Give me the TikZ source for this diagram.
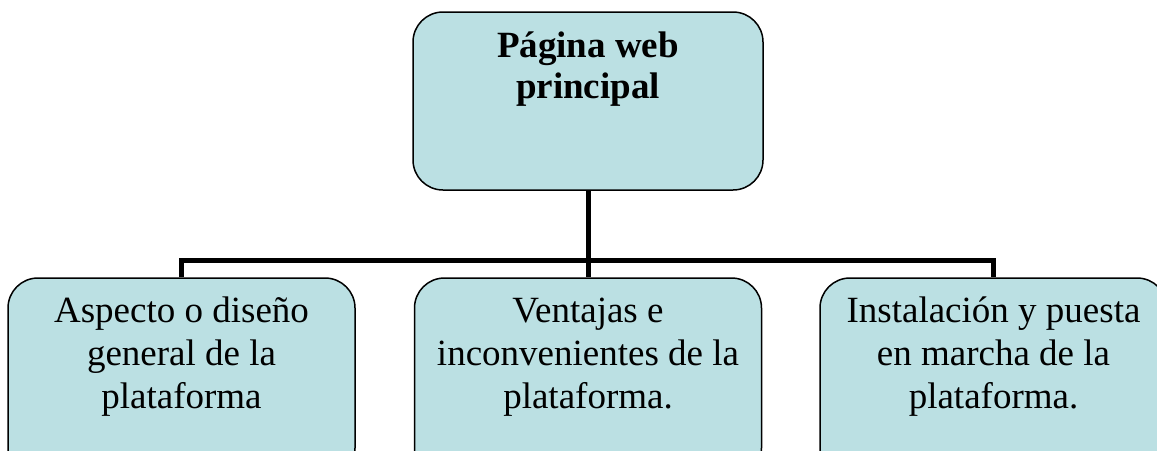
\documentclass[tikz,border=0pt]{standalone}
\usepackage{fontspec}
\setmainfont{Liberation Serif}
\definecolor{boxfill}{RGB}{187,224,227}
\begin{document}
\begin{tikzpicture}[x=1pt,y=-1pt,
  box/.style={draw=black, line width=1.5pt, fill=boxfill, rounded corners=30pt, minimum width=347pt, inner sep=0pt},
  lbl/.style={anchor=base, inner sep=0pt, font=\fontsize{37}{43}\selectfont},
  toplbl/.style={anchor=base, inner sep=0pt, font=\fontsize{37}{41}\selectfont\bfseries},
  link/.style={line width=5pt}]
\clip (0,0) rectangle (1157,450);
\fill[white] (0,0) rectangle (1157,450);
\node[box, minimum width=350pt, minimum height=178pt] (top) at (588,101) {};
\node[box, minimum height=200pt] (b1) at (181.5,378) {};
\node[box, minimum height=200pt] (b2) at (588,378) {};
\node[box, minimum height=200pt] (b3) at (993.5,378) {};
\coordinate (bus) at (588,260);
\draw[link] (top.south) -- (bus);
\draw[link] (bus) -- (b2.north);
\draw[link] (b1.north) -- (b1.north |- bus) -- (b3.north |- bus) -- (b3.north);
\node[toplbl] (t0) at (588,57) {\begin{tabular}[t]{@{}c@{}}Página web\\principal\end{tabular}};
\node[lbl] (t1) at (181.5,322) {\begin{tabular}[t]{@{}c@{}}Aspecto o diseño\\general de la\\plataforma\end{tabular}};
\node[lbl] (t2) at (588,322) {\begin{tabular}[t]{@{}c@{}}Ventajas e\\inconvenientes de la\\plataforma.\end{tabular}};
\node[lbl] (t3) at (993.5,322) {\begin{tabular}[t]{@{}c@{}}Instalación y puesta\\en marcha de la\\plataforma.\end{tabular}};
\end{tikzpicture}
\end{document}
